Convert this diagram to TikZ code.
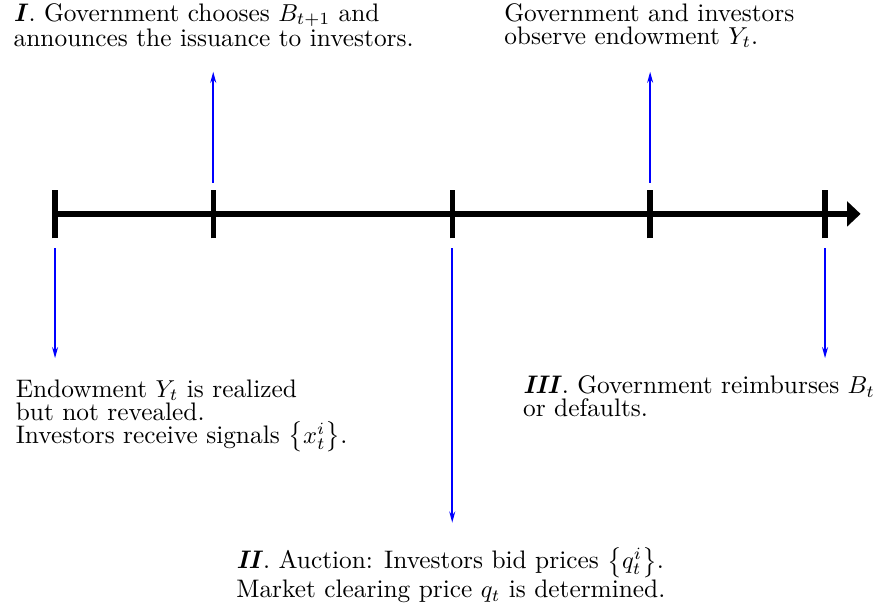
\documentclass[tikz,border=0pt]{standalone}
\usepackage{amsmath}
\usepackage{amssymb}
\usepackage{xcolor}
\usetikzlibrary{arrows.meta}

\begin{document}
\begin{tikzpicture}[
  event/.style={align=left, inner sep=0pt, font=\fontsize{10.35}{9.4}\selectfont},
  tick/.style={line width=2.2pt},
  signal/.style={blue, line width=0.8pt, -{Stealth[length=4.5pt,width=2.4pt]}}
]
\useasboundingbox (-0.79,3.07) rectangle (11.81,-5.60);

\coordinate (T1) at (0,0);
\coordinate (T2) at (2.27,0);
\coordinate (T3) at (5.70,0);
\coordinate (T4) at (8.54,0);
\coordinate (T5) at (11.05,0);
\coordinate (TE) at (11.56,0);

\draw [line width=2.4pt, -{Triangle[length=5.5pt,width=10pt]}] (T1) -- (TE);
\foreach \t in {T1,T2,T3,T4,T5}
  \draw [tick] ([yshift=-0.35cm]\t) -- ([yshift=0.35cm]\t);

\node (E1) at (-0.57,-2.37) [event, anchor=north west] {Endowment $Y_t$ is realized\\but not revealed.\\Investors receive signals $\left\{x_t^i\right\}$.};
\node (E2) at (-0.60,3.03) [event, anchor=north west] {\textbf{\textit{I}}. Government chooses $B_{t+1}$ and\\announces the issuance to investors.};
\node (E3) at (5.68,-4.78) [event, anchor=north] {\textbf{\textit{II}}. Auction: Investors bid prices $\left\{q_t^i\right\}$.\\Market clearing price $q_t$ is determined.};
\node (E4) at (6.44,3.03) [event, anchor=north west] {Government and investors\\observe endowment $Y_t$.};
\node (E5) at (6.71,-2.32) [event, anchor=north west] {\textbf{\textit{III}}. Government reimburses $B_t$\\or defaults.};

\coordinate (S1) at (0,-0.49);   \coordinate (R1) at (0,-2.07);
\coordinate (S2) at (2.27,0.45); \coordinate (R2) at (2.27,2.04);
\coordinate (S3) at (5.70,-0.49);\coordinate (R3) at (5.70,-4.43);
\coordinate (S4) at (8.54,0.45); \coordinate (R4) at (8.54,2.04);
\coordinate (S5) at (11.05,-0.49);\coordinate (R5) at (11.05,-2.07);

\draw [signal] (S1) -- (R1);
\draw [signal] (S2) -- (R2);
\draw [signal] (S3) -- (R3);
\draw [signal] (S4) -- (R4);
\draw [signal] (S5) -- (R5);
\end{tikzpicture}
\end{document}
